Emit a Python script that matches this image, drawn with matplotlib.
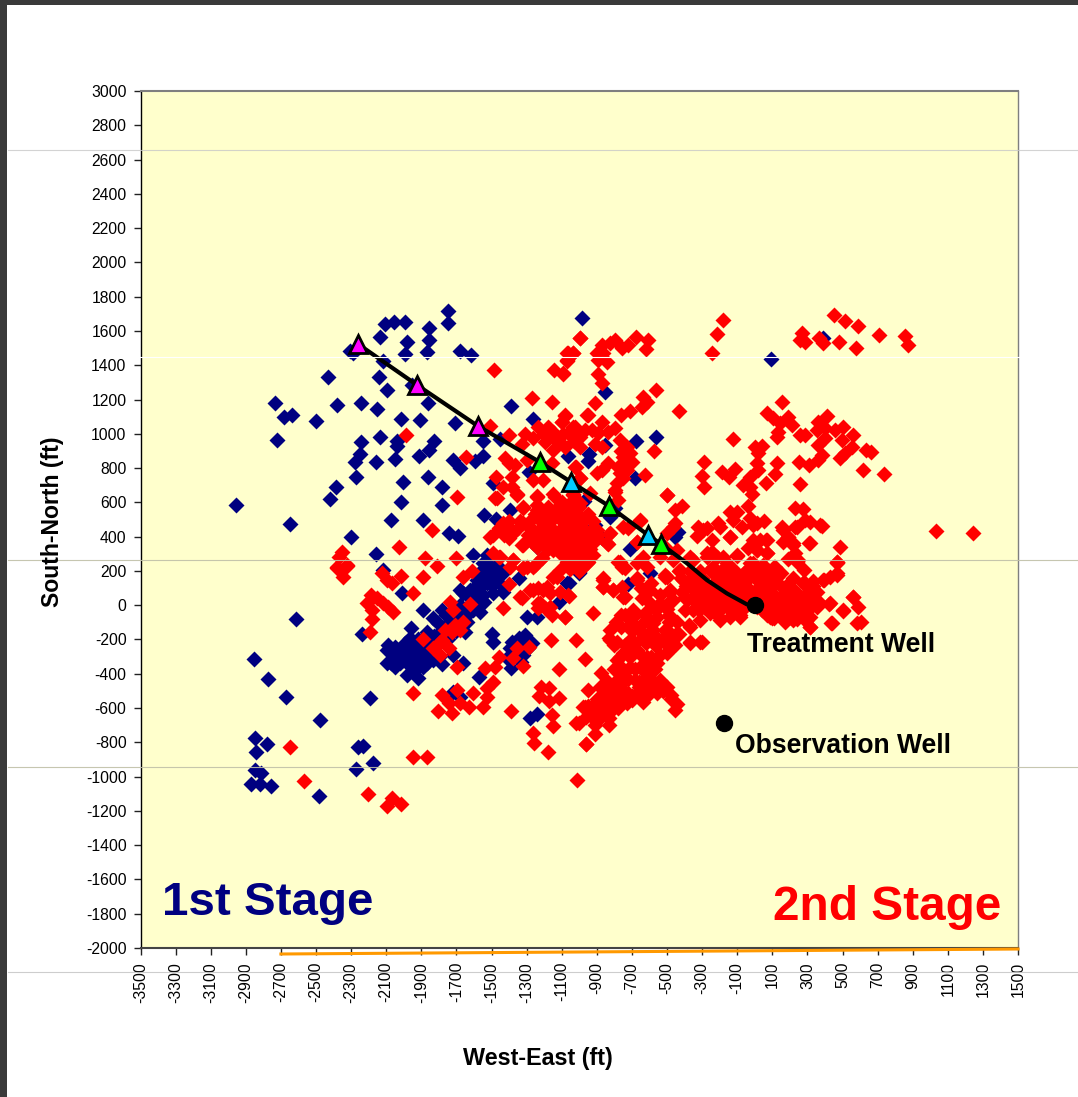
import matplotlib
matplotlib.use("Agg")
import matplotlib.pyplot as plt
from matplotlib.lines import Line2D
from matplotlib.patches import Rectangle

plt.rcParams['font.family'] = ['Liberation Sans', 'DejaVu Sans']
plt.rcParams['axes.unicode_minus'] = False

W, H = 1078, 1097

blue_upper = [(-1746,1716),(-1746,1644),(-2106,1639),(-2053,1654),(-1991,1654),(-1854,1619),(-1856,1547),(-2133,1565),
(-1979,1536),(-1992,1468),(-1869,1475),(-1681,1481),(-1614,1458),(-987,1676),(-2306,1485),(-2287,1469),(-2120,1425),
(-2139,1331),(-2431,1331),(-2097,1257),(-1954,1285),(-2732,1182),(-2684,1100),(-2635,1108),(-2498,1077),(-2380,1168),
(-2241,1182),(-2154,1147),(-2015,1086),(-1905,1079),(-1863,1182),(-1709,1063),(-1388,1160),(-1261,1086),(-2724,966),
(-2241,950),(-2133,981),(-2036,956),(-2038,929),(-1825,960),(-1856,905),(-1913,870),(-2051,855),(-2249,882),(-2277,837),
(-2158,835),(-2270,750),(-2002,719),(-1863,750),(-1783,690),(-2388,690),(-2418,621),(-2958,584),(-2650,472),(-2015,600),
(-1782,584),(-2074,495),(-1892,495),(-1744,421),(-1689,402),(-2300,398),(-2156,300),(-1717,847),(-1679,802),(-1593,839),
(-1546,872),(-1546,958),(-1451,970),(-1289,775),(-1489,711),(-1540,524),(-1474,505),(-1394,555),(-1242,341),(-1603,293)]

blue_lower = [(-2614,-80),(-2855,-312),(-2775,-430),(-2673,-535),(-2190,-543),(-2475,-670),(-2847,-773),(-2781,-812),
(-2840,-856),(-2847,-961),(-2815,-981),(-2872,-1045),(-2819,-1045),(-2758,-1053),(-2259,-825),(-2234,-819),(-2272,-955),
(-2177,-922),(-2483,-1111),(-2008,69),(-2239,-168),(-1892,-28),(-2116,206)]

blue_dense = [(-2097,-261),(-2050,-242),(-2002,-261),(-1960,-135),(-1964,-193),(-1993,-222),(-1954,-251),(-1907,-261),
(-2093,-339),(-2050,-362),(-2002,-319),(-1954,-319),(-1907,-319),(-1860,-319),(-1983,-407),(-1916,-426),(-2021,-290),
(-2059,-310),(-1935,-378),(-1888,-358),(-1831,-319),(-1780,-343),(-1869,-154),(-1831,-76),(-1783,-28),(-1802,-106),
(-1850,-203),(-1717,-290),(-1664,-339),(-1650,-154),(-1679,1),(-1603,-28),(-1565,-37),(-1679,89),(-1622,89),(-1584,69),
(-1546,60),(-1489,69),(-1432,79),(-1584,147),(-1527,128),(-1527,206),(-1489,176),(-1546,245),(-1460,225),(-1346,157),
(-1603,31),(-1497,-168),(-1489,-213),(-1569,-417),(-1717,-504),(-1679,-533),(-1308,-174),(-1384,-213),(-1346,-193),
(-1270,-222),(-1394,-251),(-1413,-310),(-1390,-368),(-1318,-290),(-1299,-71),(-1242,-67),(-1280,-660),(-1242,-635),
(-1118,21),(-1061,128),(-1004,190),(-1527,290),(-1480,262),(-1560,200),(-1720,-60),(-1750,-200),(-1640,-60)]

blue_fill = [(-2090,-230),(-2040,-280),(-1990,-290),(-1940,-285),(-1890,-290),(-1840,-280),(-2070,-340),(-2020,-340),
(-1970,-350),(-1920,-350),(-1870,-340),(-1800,-300),(-1920,-200),(-1880,-230),(-1830,-180),(-1790,-150),(-1740,-100),
(-1700,-60),(-1650,-20),(-1620,40),(-1560,110),(-1500,120),(-1460,130),(-1520,170),(-1480,230),(-1440,180),(-1340,-230),
(-1370,-290),(-1330,-330),(-1290,-250),(-1350,-270),(-1760,-60),(-1700,-150),(-1640,-100),(-1580,-10),(-1660,70),(-1590,110),
(-1540,20)]

blue_right = [(95,1436),(391,1561),(-855,1242),(-679,960),(-563,983),(-853,935),(-943,882),(-952,843),(-1062,872),
(-682,740),(-455,400),(-435,429),(-711,326),(-825,516),(-796,565),(-973,610),(-872,390),(-910,468),(-723,124),(-596,190),
(-1004,196),(-1071,128)]

red_west = [(-2382,215),(-2325,229),(-2348,163),(-2125,186),(-2097,147),(-2068,128),(-2017,171),(-1892,163),(-1664,163),
(-1609,202),(-1812,229),(-1945,69),(-2188,60),(-2211,11),(-2182,-28),(-2179,-82),(-2116,11),(-2087,-8),(-2059,-37),
(-2192,-158),(-2154,40),(-1888,-197),(-1736,21),(-1717,-28),(-1622,7),(-1764,-144),(-1707,-115),(-1660,-96),(-1726,-154),
(-1679,-144),(-1793,-213),(-1831,-251),(-1793,-290),(-1745,-251),(-1783,-203),(-1698,-362),(-1403,124),(-1432,-18),
(-1327,40),(-1261,89),(-1204,89),(-1166,69),(-1233,11),(-1195,-18),(-1156,-57),(-1080,-71),(-1061,56),(-1128,167),
(-1318,215),(-1251,235),(-1162,-203),(-1018,-203),(-967,-316),(-1118,-374),(-1460,-300),(-1537,-368),(-1479,-358),
(-1489,-446),(-1527,-485),(-1603,-514),(-1527,-533),(-1546,-592),(-1631,-592),(-1698,-494),(-1783,-524),(-1745,-572),
(-1802,-615),(-1726,-627),(-1679,-572),(-1945,-510),(-1356,-251),(-1289,-242),(-1375,-310),(-1318,-355),(-1390,-615),
(-1217,-475),(-1175,-485),(-1229,-528),(-1175,-557),(-1118,-539),(-1157,-640),(-1147,-703),(-1265,-747),(-1257,-806),
(-1179,-854),(-1010,-1020),(-1019,-685),(-967,-592),(-961,-810),(-2646,-825),(-1945,-884),(-1865,-884),(-2566,-1026),
(-2202,-1101),(-2068,-1123),(-2097,-1171),(-2017,-1162)]

red_upper_mid = [(-995,1561),(-1071,1469),(-1033,1469),(-1071,1427),(-1143,1372),(-1094,1349),(-1483,1372),(-1272,1209),
(-1155,1184),(-1989,991),(-1645,863),(-1698,633),(-1840,439),(-2025,341),(-1878,273),(-1704,273),(-2350,312),(-2369,283),
(-2382,225),(-2325,234),(-1508,1045),(-1398,991),(-1309,999),(-1265,977),(-1324,938),(-1233,1042),(-1176,1042),(-1147,983),
(-1195,954),(-1081,1110),(-1100,1071),(-1023,1042),(-957,1110),(-1052,1012),(-995,983),(-1081,925),(-1147,905),(-1423,861),
(-1366,818),(-1403,828),(-1299,847),(-1157,828),(-1023,808),(-1476,746),(-1384,750),(-1261,730),(-1204,730),(-995,740),
(-1432,692),(-1384,692),(-1470,623),(-1352,647),(-1242,637),(-1147,649),(-1033,649),(-1318,565),(-1242,584),(-1100,604)]

red_core = [(-1508,400),(-1432,477),(-1375,419),(-1318,477),(-1261,439),(-1204,477),(-1147,439),(-1090,516),(-1033,477),
(-976,439),(-1090,400),(-1033,380),(-976,361),(-1045,303),(-995,283),(-957,516),(-1261,361),(-1327,351),(-1375,264),
(-1460,283),(-1213,273),(-1299,225),(-1147,322),(-957,244),(-1441,439),(-1195,390),(-1128,380),(-1000,440),(-940,400),
(-1060,440),(-1020,340),(-960,320),(-1170,430),(-1230,420),(-1290,410),(-1350,450),(-1400,390),(-900,440),(-920,360),
(-1060,250),(-1000,200),(-1110,330),(-1080,560),(-1010,560)]

red_core_fill = [(-1180,575),(-1120,575),(-1060,575),(-1000,575),(-1250,530),(-1190,530),(-1130,530),(-1070,530),(-1010,530),(-950,530),
(-1400,490),(-1340,490),(-1280,490),(-1220,490),(-1160,490),(-1100,490),(-1040,490),(-980,490),(-920,490),
(-1460,450),(-1400,450),(-1280,450),(-1220,450),(-1160,450),(-1100,450),(-1040,450),(-980,450),(-920,450),
(-1490,410),(-1430,410),(-1250,410),(-1190,410),(-1130,410),(-1070,410),(-1010,410),(-950,410),(-900,410),
(-1220,370),(-1160,370),(-1100,370),(-1040,370),(-980,370),(-920,370),
(-1180,330),(-1120,330),(-1060,330),(-1000,330),(-940,330),
(-1100,290),(-1040,290),(-980,290),(-920,290),(-1070,250),(-1010,250),(-950,250),(-1050,210),(-990,210),
(-1243,341),(-1319,351),(-1376,264),(-1214,273),(-1319,215),(-1262,225),(-1395,225),(-1148,166),(-1110,205),(-1490,302),(-1452,283),
(-1281,88),(-1338,50),(-1233,98),(-1186,108),(-1110,79),(-1062,59),(-1224,11),(-1167,-9),(-1233,-18),
(-1357,643),(-1243,633),(-1480,623),(-1319,575),(-1243,555),(-1138,633),(-996,594),(-1053,594),(-825,419),(-844,361),(-796,662),
(-749,458),(-654,497),(-673,370),(-778,254),(-740,215),(-863,157),(-863,108),(-806,88),(-749,50),(-606,88),(-673,157),(-512,176),
(-464,458),(-502,643)]

red_north = [(-996,1561),(-179,1664),(-215,1582),(-245,1469),(454,1695),(515,1656),(587,1627),(710,1574),(857,1573),
(874,1518),(579,1499),(478,1537),(268,1586),(287,1537),(258,1547),(368,1557),(391,1528),(-1062,1469),(-1034,1469),
(-1091,1353),(-1072,1430),(-901,1469),(-872,1518),(-825,1528),(-796,1547),(-758,1499),(-720,1518),(-677,1563),(-606,1547),
(-622,1495),(-863,1469),(-891,1430),(-844,1421),(-891,1349),(-869,1294),(-565,1254),(-635,1213),(-616,1187),(-644,1158),
(-910,1178),(-952,1110),(-1081,1104),(-1100,1071),(-872,1071),(-762,1110),(-711,1135),(-434,1133)]

red_mid = [(-930,1022),(-891,1003),(-1034,1042),(-1062,1003),(-1015,983),(-834,1012),(-796,1032),(-768,964),(-996,925),
(-910,940),(-872,925),(-730,925),(-711,886),(-572,900),(-749,866),(-702,837),(-778,808),(-834,828),(-872,789),(-901,769),
(-1019,808),(-730,789),(-625,760),(-996,740),(-749,740),(-787,711),(-796,672),(-778,614),(-939,653),(-1034,643),(-500,641),
(-454,555),(-413,581),(-654,493),(-720,452),(-454,477),(-502,419),(-829,413),(-834,355),(-901,390),(-673,371),
(-1150,1010),(-1090,1000),(-1200,1000),(-1030,960),(-970,1020),(-1120,960),(-1180,1000),(-760,900),(-740,840),(-770,770)]

red_east = [(157,1185),(68,1119),(106,1090),(144,1061),(188,1100),(214,1051),(134,1012),(125,979),(-122,970),(40,931),
(2,921),(20,886),(11,828),(20,789),(-27,750),(-65,701),(-27,692),(-18,649),(125,828),(116,765),(62,715),(-287,833),
(-302,756),(-289,688),(-185,775),(-147,750),(-112,793),(-40,581),(410,1104),(362,1071),(353,1022),(400,1032),(458,1022),
(505,1042),(495,964),(562,993),(287,993),(258,993),(362,935),(400,974),(553,925),(515,886),(486,861),(382,876),(362,847),
(634,905),(661,892),(252,833),(311,818),(260,707),(617,789),(735,767),(1033,431),(1246,423),(230,565),(277,561),(287,497),
(315,483),(382,462),(157,454),(230,454),(192,400),(163,371),(220,351),(309,361),(486,341),(230,303),(471,254),(192,267),
(249,264),(53,491),(-27,507),(-103,546),(-141,546),(-122,497),(-74,458),(-8,468),(-207,477),(-274,448),(-321,454),
(-327,404),(-245,380),(-141,400),(64,380),(-12,380),(-36,332),(11,322),(68,303),(-103,289),(-245,312),(-179,283),
(-274,283),(-350,264),(-445,322),(-512,341),(-635,283),(-768,254),(-673,244),(-8,244),(116,225),(49,234),(-236,225),
(-540,283),(-464,264)]

red_east_fill = [(-430,200),(-370,200),(-310,200),(-250,200),(-190,200),(-130,200),(-60,190),(20,190),(80,200),(150,190),
(-420,160),(-360,150),(-300,160),(-130,170),(-30,160),(40,140),(70,160),(220,160),(330,140),(-390,110),(-330,120),(-230,110),
(-170,110),(-100,110),(-40,100),(30,110),(90,100),(150,110),(210,100),(330,110),(-340,60),(-280,70),(-230,60),(-150,70),(-90,70),
(-30,60),(50,40),(110,60),(170,70),(250,60),(310,40),(-300,20),(-240,20),(-180,20),(-110,30),(-50,20),(50,10),(110,10),(170,30),
(230,30),(280,30),(350,20),(-260,-20),(-200,-10),(-140,-30),(-70,-30),(40,-30),(100,-30),(160,-20),(210,-20),(260,-20),(310,-20),
(150,-60),(200,-70),(240,-80),(290,-90),(70,-60),
(-293,439),(-198,458),(-141,400),(11,478),(30,380),(163,439),(192,400),(220,361),(315,361),(239,458),(372,468),(467,254),(239,264),
(115,215),(-103,293),(-274,303),(-217,283),(-369,283),(11,322),(68,380),(68,303),(-27,244),(49,205),(11,147),(87,108),(182,50),
(277,127),(353,79),(391,147),(429,166),(467,186),(429,11),(501,-28),(438,-106),(558,50),(581,-106),(315,-125),(220,-86),(172,-86),
(96,-77),(11,-9),(87,30),(-84,-57),(-198,-77),(-312,-9),(-388,30),(-464,30),(-483,89),(-416,79),(-511,166),(-426,205),(-350,166),
(-255,205),(-198,147),(-141,69),(-84,30),(-236,30),(-312,89),(-369,-125),(-445,-164),(-483,-67),(-312,-213),(-369,-213),(-511,-145),
(277,30),(353,-9),(163,-9),(296,-67),(-160,244),(-217,186),(-65,108),(-8,69),(-274,108),(-350,-28)]

red_south = [(-862,147),(-862,108),(-805,89),(-757,108),(-738,50),(-596,89),(-501,167),(-672,147),(-615,225),(-757,225),
(-482,79),(-396,50),(-406,147),(-330,167),(-273,108),(-349,89),(-216,147),(-140,147),(-273,31),(-197,69),(-121,69),(-83,108),
(-121,206),(-45,206),(12,225),(107,225),(31,147),(107,128),(183,118),(278,138),(240,50),(335,69),(297,11),(221,11),(145,50),
(88,11),(107,-76),(174,-96),(269,-57),(316,-125),(316,-67),(364,21),(424,5),(502,-32),(588,-10),(559,50),(605,-100),(436,-106),
(183,-8),(278,206),(392,147),(468,176),(468,245),(240,254),(117,215),(-83,-67),(-197,-86),(-311,-86),(-377,-115),(-444,-96),
(-491,-57),(-396,-28),(-292,-8),(-197,-28),(-121,11),(-539,11),(-605,21),(-691,-28),(-761,-57),(-824,-144),(-701,-106),
(-634,-106),(-558,-67),(-501,-144),(-431,-168),(-368,-222),(-301,-213),(-453,-232),(-501,-281),(-558,-339),(-577,-203),
(-634,-183),(-710,-203),(-786,-213),(-824,-203),(-672,-261),(-615,-300),(-748,-281),(-786,-319),(-710,-358),(-634,-378),
(-767,-397),(-875,-397),(-824,-475),(-757,-456),(-681,-436),(-605,-417),(-539,-436),(-634,-495),(-558,-514),(-476,-524),
(-444,-578),(-457,-611),(-701,-553),(-634,-563),(-776,-533),(-805,-592),(-862,-631),(-900,-563),(-976,-592),(-938,-640),
(-999,-689),(-909,-699),(-833,-699),(-909,-751),(-959,-810),(-951,-495),(-923,-47),(-1084,-71),
(-710,-125),(-653,-144),(-615,-67),(-577,-144),(-701,-281),(-653,-358),(-577,-106),(-748,-495),(-672,-514),(-729,-572),
(-634,-436),(-577,-475),(-843,-611),(-786,-514),(-320,-28),(-254,-47),(-140,-67),(12,89),(69,69),(126,31),(202,69),
(-83,167),(-178,186),(-235,206),(126,167),(-159,31),(-45,50),(-349,31),(259,11),(297,69),(221,-47),(145,-37),(88,-67)]

red_south_fill = [(-740,-60),(-680,-60),(-620,-40),(-560,-30),(-760,-130),(-700,-150),(-640,-160),(-580,-170),(-520,-190),
(-800,-230),(-740,-230),(-680,-220),(-620,-220),(-560,-240),(-500,-230),(-770,-300),(-710,-300),(-650,-290),(-590,-300),(-540,-290),
(-800,-370),(-750,-370),(-680,-370),(-620,-350),(-570,-370),(-840,-440),(-790,-440),(-720,-430),(-660,-450),(-600,-450),(-540,-480),
(-860,-520),(-800,-520),(-720,-510),(-660,-480),(-600,-520),(-520,-500),(-880,-570),(-830,-570),(-770,-570),(-700,-530),
(-950,-610),(-890,-610),(-830,-630),(-780,-600),(-960,-650),(-880,-660),(-830,-660),(-650,100),(-590,130),(-540,60),(-480,30),
(-640,40),(-500,-20),(-790,-100),(-610,-100),(-490,-100),(-830,-190),(-470,-190),(-490,-260),(-880,-480),(-500,-480),(-900,-550),
(-480,-550),(-950,-590),(-910,-640)]

well_x = [-2261,-1925,-1577,-1224,-1047,-831,-609,-534,-387,-273,-159,-45,0]
well_y = [1524,1285,1045,835,719,579,410,357,245,147,69,5,0]
perf_x = [-2261,-1925,-1577,-1224,-1047,-831,-609,-534]
perf_y = [1524,1285,1045,835,719,579,410,357]
perf_colors = ['#FF00FF','#FF00FF','#FF00FF','#00FF00','#00CCFF','#00FF00','#00CCFF','#00FF00']
wells_x = [0,-175]
wells_y = [0,-687]
rule_x = [-2700,1500]
rule_y = [-2035,-2006]
x_ticks = list(range(-3500,1501,200))
y_ticks = list(range(-2000,3001,200))

fig = plt.figure(figsize=(W/100,H/100),dpi=100,facecolor='white')
ax = fig.add_axes([140.5/W,1-948/H,877.5/W,857/H],facecolor='#FFFFCC')
ax.set_xlim(-3500,1500); ax.set_ylim(-2000,3000)

blue = blue_upper+blue_lower+blue_dense+blue_fill+blue_right
red = red_west+red_upper_mid+red_core+red_core_fill+red_north+red_mid+red_east+red_east_fill+red_south+red_south_fill
ax.plot([p[0] for p in blue],[p[1] for p in blue],ls='',marker='D',ms=7.8,mfc='#000080',mec='none',zorder=3)
ax.plot([p[0] for p in red],[p[1] for p in red],ls='',marker='D',ms=7.8,mfc='#FF0000',mec='none',zorder=4)
ax.plot(well_x,well_y,color='black',lw=3,zorder=5)
for x,y,c in zip(perf_x,perf_y,perf_colors):
    ax.plot([x],[y],marker='^',ms=12.5,mfc=c,mec='black',mew=2,ls='',zorder=6)
ax.plot(wells_x,wells_y,ls='',marker='o',ms=11.5,mfc='black',mec='black',zorder=7)
ax.plot(rule_x,rule_y,color='#FF9900',lw=2.2,clip_on=False,zorder=8)

ax.set_xticks(x_ticks); ax.set_yticks(y_ticks)
ax.tick_params(axis='x',labelsize=11.3,labelrotation=90,length=5,width=1,pad=5,color='#222222')
ax.tick_params(axis='y',labelsize=11.3,length=5,width=1,pad=5,color='#222222')
for s,c,l in (('top','#7F7F7F',1.5),('bottom','#444444',1.5),('left','black',1),('right','#7F7F7F',1)):
    ax.spines[s].set_color(c); ax.spines[s].set_linewidth(l)

fig.text(538/W,1-1059/H,'West-East (ft)',ha='center',va='center',fontsize=16.8,fontweight='bold')
fig.text(53/W,1-522/H,'South-North (ft)',ha='center',va='center',rotation=90,fontsize=16.6,fontweight='bold')
fig.text(747/W,1-645/H,'Treatment Well',ha='left',va='center',fontsize=19.2,fontweight='bold')
fig.text(735/W,1-746/H,'Observation Well',ha='left',va='center',fontsize=19.1,fontweight='bold')
fig.text(162/W,1-903/H,'1st Stage',ha='left',va='center',fontsize=34.2,fontweight='bold',color='#000080')
fig.text(773/W,1-907/H,'2nd Stage',ha='left',va='center',fontsize=34.4,fontweight='bold',color='#FF0000')

# screenshot frame and the faint stray rules across it
fig.add_artist(Rectangle((0,0),7/W,1,transform=fig.transFigure,fc='#3A3A3A',ec='none',zorder=20))
fig.add_artist(Rectangle((0,1-5/H),1,5/H,transform=fig.transFigure,fc='#3A3A3A',ec='none',zorder=20))
for py,c,a in ((150,'#C8C8C8',0.8),(357,'#FFFFFF',1.0),(560,'#C0C0A8',0.9),(767,'#C0C0A8',0.9),(972,'#C8C8C8',0.9)):
    fig.add_artist(Line2D([8/W,1],[1-py/H,1-py/H],transform=fig.transFigure,color=c,alpha=a,lw=0.8,zorder=2.5))

fig.savefig('out.png',dpi=100)
